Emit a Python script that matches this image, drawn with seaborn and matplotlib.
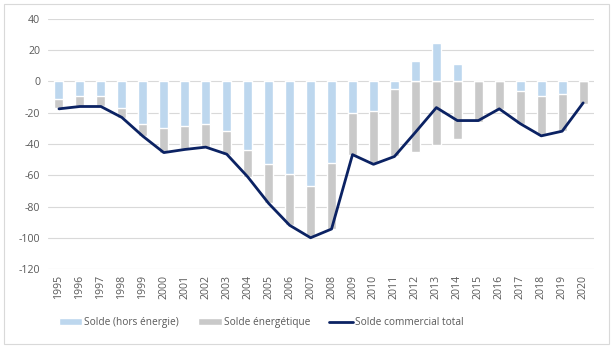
import matplotlib
matplotlib.use('Agg')
import matplotlib.pyplot as plt
from matplotlib.patches import Rectangle
from matplotlib.lines import Line2D
import seaborn as sns
import numpy as np
import pandas as pd

years = [str(y) for y in range(1995, 2021)]

# Solde (hors énergie), Md€
hors_energie = [-11.5, -9.6, -9.0, -17.0, -27.0, -29.5, -28.2, -27.0, -31.8, -44.0,
                -52.6, -59.0, -66.7, -52.0, -19.9, -19.2, -5.1, 12.8, 24.4, 11.5,
                0.6, 0.0, -5.8, -9.6, -8.3, 0.6]
# Solde énergétique
energetique = [-5.5, -5.8, -7.0, -6.3, -7.6, -16.5, -14.8, -15.0, -15.0, -17.0,
               -25.4, -33.0, -33.1, -42.4, -26.9, -33.6, -42.8, -45.3, -40.8, -37.0,
               -26.0, -17.5, -21.2, -25.2, -23.5, -14.5]
# Solde commercial total
total = [-17.5, -16.0, -16.0, -23.0, -35.0, -45.5, -43.5, -42.0, -46.5, -61.0,
         -78.0, -92.0, -100.0, -94.4, -46.8, -53.0, -48.0, -32.5, -16.7, -25.0,
         -25.0, -17.5, -27.0, -34.8, -31.8, -13.7]

blue = '#BDD7EE'
grey = '#C9C9C9'
navy = '#0B2263'
txt = '#595959'

df = pd.DataFrame({'year': years, 'hors': hors_energie, 'energ': energetique, 'total': total})
# gray segment stacks below the negative part of the blue bar
df['energ_end'] = np.minimum(df['hors'], 0) + df['energ']

sns.set_style('white')
plt.rcParams['font.family'] = ['Open Sans', 'DejaVu Sans']
plt.rcParams['axes.unicode_minus'] = False

fig = plt.figure(figsize=(6.16, 3.51), dpi=100)
ax = fig.add_axes([0.0787, 0.2336, 0.885, 0.7123])

sns.barplot(data=df, x='year', y='energ_end', color=grey, width=0.43,
            saturation=1, ax=ax, zorder=2)
sns.barplot(data=df, x='year', y='hors', color=blue, width=0.43,
            saturation=1, ax=ax, zorder=3)
sns.lineplot(data=df, x='year', y='total', color=navy, linewidth=2.0,
             ax=ax, zorder=4, sort=False)

ax.set_ylim(-120, 40)
ax.set_xlim(-0.5, 25.5)
ax.set_yticks(np.arange(-120, 41, 20))
ax.yaxis.grid(True, color='#D9D9D9', linewidth=0.8)
ax.set_axisbelow(True)
for s in ax.spines.values():
    s.set_visible(False)
ax.set_xlabel('')
ax.set_ylabel('')
ax.tick_params(axis='both', length=0, labelsize=7.6, labelcolor=txt)
ax.tick_params(axis='x', pad=4)
ax.tick_params(axis='y', pad=6)
plt.setp(ax.get_xticklabels(), rotation=90)

handles = [Rectangle((0, 0), 1, 1, facecolor=blue),
           Rectangle((0, 0), 1, 1, facecolor=grey),
           Line2D([0], [0], color=navy, linewidth=2.0)]
labels = ['Solde (hors énergie)', 'Solde énergétique', 'Solde commercial total']
fig.legend(handles, labels, loc='center', bbox_to_anchor=(0.424, 0.08), ncol=3,
           frameon=False, fontsize=7.3, labelcolor=txt, handlelength=2.3,
           handleheight=0.7, handletextpad=0.2, columnspacing=1.9)

fig.patches.append(Rectangle((0.007, 0.02), 0.982, 0.97, transform=fig.transFigure,
                             fill=False, edgecolor='#D9D9D9', linewidth=0.8))

fig.savefig('out.png', dpi=100)
